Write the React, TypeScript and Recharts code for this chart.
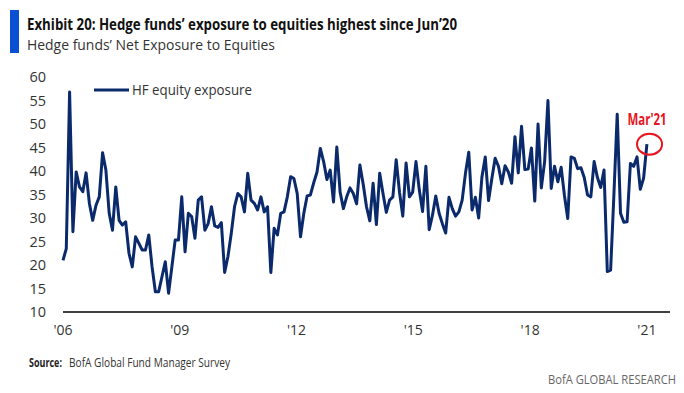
import React from 'react';
import { Legend, Line, LineChart, ReferenceDot, XAxis, YAxis } from 'recharts';

// HF net exposure to equities (Jan 2006 .. Mar 2021)
const exposure = [
  21.0, 23.5, 56.8, 27.1, 39.8, 36.6, 35.6, 39.6, 33.1, 29.5, 32.7, 34.5,
  43.9, 40.2, 31.0, 27.4, 36.6, 29.5, 28.5, 29.2, 22.5, 19.6, 26.0, 24.6,
  23.2, 23.2, 26.4, 19.6, 14.3, 14.3, 17.5, 20.7, 14.0, 19.6, 25.3, 25.3,
  34.5, 22.8, 31.0, 30.3, 25.7, 33.8, 34.5, 27.4, 28.8, 32.4, 28.3, 28.0,
  29.0, 18.4, 21.8, 26.7, 32.4, 35.2, 34.5, 31.3, 39.5, 33.8, 33.1, 31.7,
  34.5, 31.3, 32.4, 18.4, 27.8, 26.4, 31.0, 31.3, 34.5, 38.8, 38.4, 35.2,
  26.0, 31.0, 34.7, 34.9, 37.5, 39.8, 44.8, 42.0, 38.2, 40.2, 33.4, 45.1,
  35.5, 32.0, 34.5, 36.4, 35.2, 33.0, 41.3, 37.2, 32.4, 29.4, 37.4, 28.6,
  39.5, 35.2, 31.2, 33.8, 34.5, 42.4, 35.5, 30.4, 41.7, 34.5, 35.5, 42.0,
  36.0, 31.4, 41.0, 27.5, 30.6, 34.7, 31.0, 28.8, 26.8, 34.4, 32.0, 30.4,
  31.3, 33.8, 39.5, 44.0, 31.7, 34.4, 30.0, 38.8, 43.0, 33.7, 38.4, 42.7,
  41.0, 37.3, 41.1, 39.8, 37.4, 47.3, 39.6, 49.5, 40.3, 40.4, 44.9, 33.6,
  50.0, 36.4, 42.0, 55.0, 36.3, 41.0, 37.7, 40.8, 34.8, 29.9, 43.0, 42.7,
  40.5, 40.7, 38.6, 34.9, 34.5, 42.0, 38.6, 36.5, 40.2, 18.6, 18.9, 35.0,
  52.1, 31.0, 29.1, 29.2, 41.6, 41.0, 43.0, 36.1, 38.5, 45.7,
];
const yearLabels = ["'06", "'09", "'12", "'15", "'18", "'21"];
const yTicks = [10, 15, 20, 25, 30, 35, 40, 45, 50, 55, 60];
const seriesName = 'HF equity exposure';
const lastLabel = "Mar'21";

const NAVY = '#0b2a6c';
const RED = '#e8141e';
const FONT = '"Open Sans", Lato, sans-serif';

const data = exposure.map((v, i) => ({ i, v }));
const last = data.length - 1;
const xTicks = yearLabels.map((_, k) => (k * last) / (yearLabels.length - 1));

function LegendLine() {
  return (
    <svg width={170} height={20} style={{ display: 'block' }}>
      <line x1={0} y1={10} x2={35} y2={10} stroke={NAVY} strokeWidth={3} />
      <text x={38} y={15} fontSize={14} fill="#333" fontFamily={FONT} textLength={120} lengthAdjust="spacingAndGlyphs">
        {seriesName}
      </text>
    </svg>
  );
}

export default function App() {
  return (
    <div style={{ position: 'absolute', left: 0, top: 0, width: 684, height: 393, background: '#fff', fontFamily: FONT }}>
      <LineChart width={684} height={393} data={data} margin={{ top: 77, right: 14, bottom: 51, left: 33 }}>
        <XAxis
          type="number"
          dataKey="i"
          domain={[0, 184]}
          ticks={xTicks}
          tickFormatter={(_v: number, idx: number) => yearLabels[idx]}
          height={30}
          tickLine={false}
          tickSize={0}
          tickMargin={13}
          axisLine={{ stroke: '#000', strokeWidth: 1.5 }}
          tick={{ fill: '#333', fontSize: 14, fontFamily: FONT }}
        />
        <YAxis
          domain={[10, 60]}
          ticks={yTicks}
          width={30}
          axisLine={false}
          tickLine={false}
          tickSize={0}
          tickMargin={17}
          tick={{ fill: '#333', fontSize: 14.5, fontFamily: FONT }}
        />
        <Legend
          layout="horizontal"
          verticalAlign="middle"
          align="center"
          wrapperStyle={{ left: 94, top: 80, width: 180 }}
          content={() => <LegendLine />}
        />
        <Line
          type="linear"
          dataKey="v"
          name={seriesName}
          stroke={NAVY}
          strokeWidth={3}
          strokeLinejoin="round"
          dot={false}
          isAnimationActive={false}
        />
        <ReferenceDot
          x={last + 0.8}
          y={exposure[last]}
          r={11}
          ifOverflow="visible"
          shape={(p: any) => (
            <ellipse cx={p.cx} cy={p.cy} rx={12.5} ry={10.5} fill="none" stroke={RED} strokeWidth={2} />
          )}
        />
      </LineChart>
      <svg width={684} height={393} style={{ position: 'absolute', left: 0, top: 0, pointerEvents: 'none' }}>
        <rect x={10} y={10} width={9} height={43} fill="#0a50d2" />
        <text x={27} y={30} fontSize={15.5} fontWeight={700} fill="#111" fontFamily={FONT} textLength={430} lengthAdjust="spacingAndGlyphs">
          Exhibit 20: Hedge funds’ exposure to equities highest since Jun’20
        </text>
        <text x={27} y={50} fontSize={15} fill="#333" fontFamily={FONT} textLength={248} lengthAdjust="spacingAndGlyphs">
          Hedge funds’ Net Exposure to Equities
        </text>
        <text x={627.5} y={125} fontSize={16} fontWeight={700} fill={RED} fontFamily={FONT} textLength={39} lengthAdjust="spacingAndGlyphs">
          {lastLabel}
        </text>
        <text x={29} y={367} fontSize={12} fontWeight={700} fill="#222" fontFamily={FONT} textLength={33} lengthAdjust="spacingAndGlyphs">
          Source:
        </text>
        <text x={69} y={367} fontSize={12} fill="#333" fontFamily={FONT} textLength={161} lengthAdjust="spacingAndGlyphs">
          BofA Global Fund Manager Survey
        </text>
        <text x={548} y={384} fontSize={12} fill="#666" fontFamily={FONT} textLength={128} lengthAdjust="spacingAndGlyphs">
          BofA GLOBAL RESEARCH
        </text>
      </svg>
    </div>
  );
}
